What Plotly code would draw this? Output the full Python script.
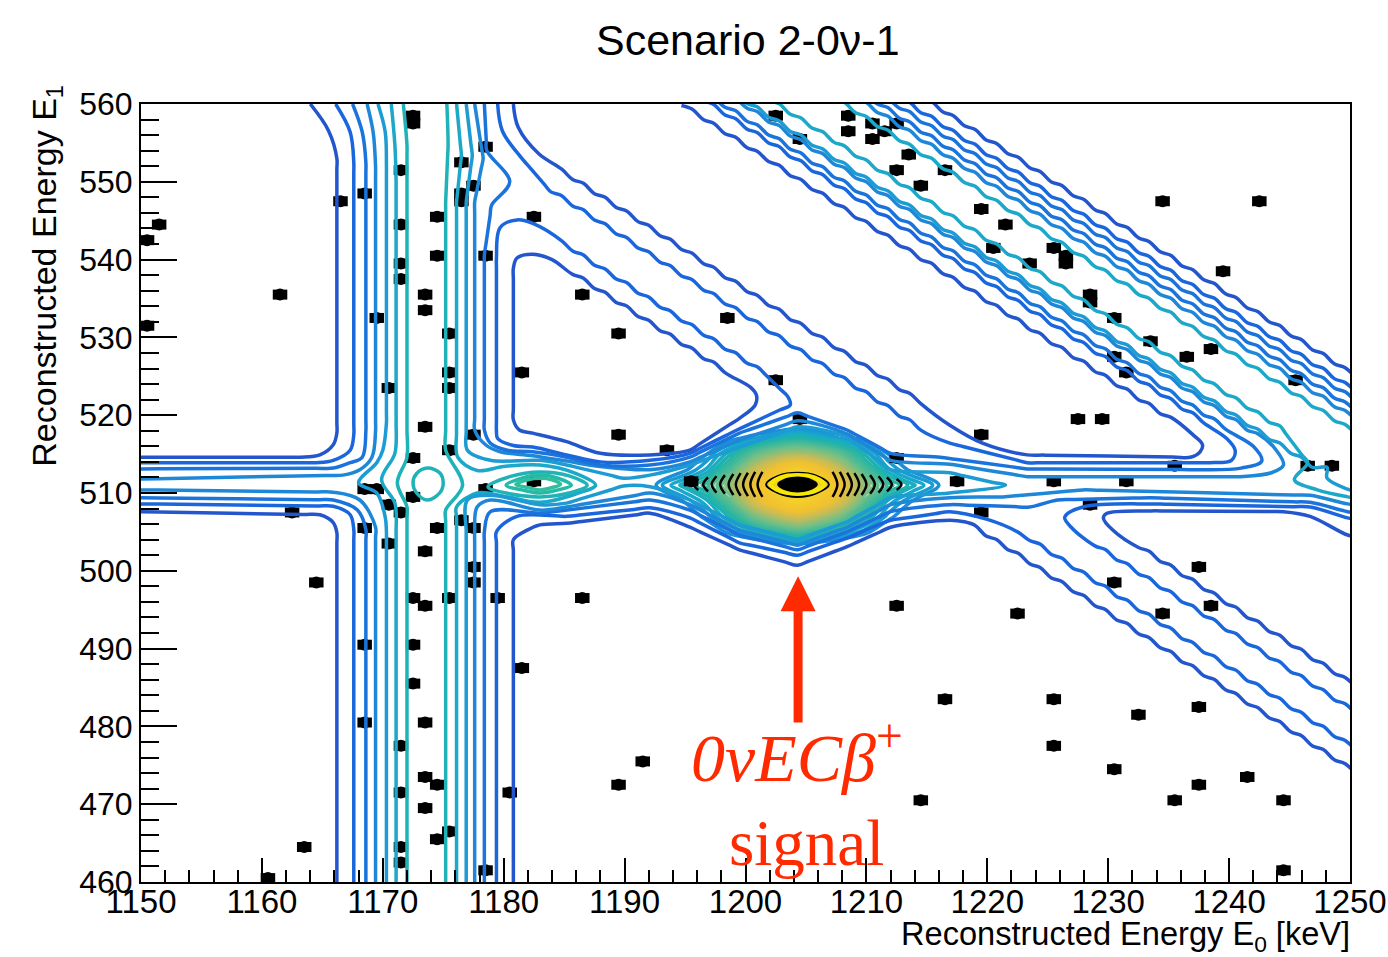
import plotly.graph_objects as go

# ---------- events (E0, E1) in keV ----------
EVENT_E0 = [1150.5,1151.5,1150.5,1161.5,1166.5,1168.5,1171.5,1171.5,1171.5,1171.5,1169.5,1170.5,1172.5,1172.5,1176.5,1177.5,1178.5,1176.5,1176.5,
            1174.5,1174.5,1178.5,1173.5,1173.5,1175.5,1175.5,1175.5,1173.5,1175.5,1177.5,1172.5,1182.5,1186.5,1189.5,1198.5,1181.5,1202.5,1189.5,
            1193.5,1204.5,1212.5,1217.5,1219.5,1227.5,1229.5,1235.5,1225.5,1231.5,1219.5,1228.5,1246.5,1248.5,1182.5,1178.5,1168.5,1169.5,1170.5,
            1171.5,1172.5,1162.5,1168.5,1170.5,1174.5,1176.5,1177.5,1173.5,1177.5,1177.5,1164.5,1172.5,1173.5,1175.5,1179.5,1186.5,1168.5,1172.5,
            1181.5,1172.5,1168.5,1173.5,1171.5,1173.5,1174.5,1171.5,1173.5,1180.5,1175.5,1174.5,1171.5,1171.5,1163.5,1160.5,1178.5,1189.5,1191.5,
            1214.5,1216.5,1212.5,1222.5,1225.5,1225.5,1230.5,1232.5,1230.5,1234.5,1237.5,1238.5,1237.5,1235.5,1237.5,1241.5,1244.5,1244.5,1202.5,
            1204.5,1208.5,1208.5,1210.5,1210.5,1211.5,1212.5,1213.5,1212.5,1214.5,1216.5,1219.5,1221.5,1220.5,1223.5,1225.5,1226.5,1226.5,1228.5,
            1228.5,1230.5,1233.5,1236.5,1238.5,1230.5,1231.5,1234.5,1242.5,1239.5,1245.5,1195.5]
EVENT_E1 = [542.5,544.5,531.5,535.5,547.5,548.5,551.5,544.5,539.5,537.5,532.5,523.5,558.5,557.5,552.5,549.5,554.5,548.5,547.5,
            545.5,540.5,540.5,535.5,533.5,530.5,525.5,523.5,518.5,515.5,517.5,514.5,545.5,535.5,530.5,532.5,525.5,524.5,517.5,
            515.5,519.5,514.5,511.5,517.5,519.5,519.5,513.5,511.5,511.5,507.5,508.5,513.5,513.5,511.5,510.5,510.5,510.5,508.5,
            507.5,509.5,507.5,505.5,503.5,505.5,506.5,505.5,502.5,500.5,498.5,498.5,496.5,495.5,496.5,496.5,496.5,490.5,490.5,
            487.5,485.5,480.5,480.5,477.5,473.5,472.5,471.5,469.5,471.5,466.5,465.5,464.5,462.5,464.5,460.5,461.5,472.5,475.5,
            470.5,483.5,495.5,494.5,483.5,477.5,474.5,481.5,498.5,494.5,500.5,495.5,482.5,470.5,472.5,473.5,470.5,461.5,558.5,
            555.5,558.5,556.5,557.5,555.5,556.5,557.5,553.5,551.5,549.5,551.5,546.5,544.5,541.5,539.5,541.5,540.5,539.5,535.5,
            534.5,532.5,529.5,527.5,528.5,527.5,525.5,547.5,547.5,538.5,524.5,511.5]

# ---------- hand read ripple of the diagonal contours ----------
WIGGLE = [.2,-.2,.22,-.2,.2,-.22,.2,-.2,.22,-.22,.2,-.2,.2,-.2,.22,-.2,.2,-.22,.22,-.2,.2,-.2,.22,-.22,.2,-.2,.22,-.2,.2,-.22,.2,-.2,.22,-.2,.2,-.22,.22,-.2,
          .2,-.2,.22,-.22,.2,-.2,.22,-.2,.2,-.22,.2,-.2,.22,-.2,.2,-.22,.22,-.2,.2,-.2,.22,-.22,.2,-.2,.22,-.2,.2,-.22,.2,-.2,.22,-.2,.2,-.22,.22,-.2,.2,-.2]
WIGGLE_E0 = [1183 + 0.9 * i for i in range(len(WIGGLE))]


def diag(total, x0, x1):
    """contour running along E0 + E1 = total"""
    pts = [(x, total - x + w) for x, w in zip(WIGGLE_E0, WIGGLE) if min(x0, x1) <= x <= max(x0, x1)]
    return pts if x0 < x1 else pts[::-1]


def straighten(pts):
    """pin long straight runs so that the spline does not bow them"""
    out = [pts[0]]
    for (x0, y0), (x1, y1) in zip(pts, pts[1:]):
        length = abs(x1 - x0) + abs(y1 - y0)
        if length > 6:
            t = 1.5 / length
            out += [(x0 + (x1 - x0) * t, y0 + (y1 - y0) * t), (x1 - (x1 - x0) * t, y1 - (y1 - y0) * t)]
        out.append((x1, y1))
    return out


# ---------- contour colours, outer to inner ----------
C1, C2, C3, C4, C5, C6, C7 = "#2356cc", "#1a66dd", "#1b74dc", "#1f87d8", "#1d9bd3", "#1ba8c9", "#1fb3b8"

# ---------- left hand quadrants ----------
TL1 = [(1164,560),(1165.5,556.6),(1166.2,553),(1166.2,517.7),(1165.9,516.2),(1164.8,514.9),(1163.2,514.6),(1150,514.6)]
TL2 = [(1166.1,560),(1167.3,556.4),(1167.6,552.5),(1167.6,517.5),(1167.3,515.5),(1165.9,514.2),(1164.5,513.9),(1150,513.9)]
TL3 = [(1167.5,560),(1168.3,556.4),(1168.6,552.5),(1168.6,518),(1168.3,514.6),(1167.3,513.9),(1165.9,513.2),(1150,513.1)]
TL4 = [(1168.7,560),(1169.2,556.4),(1169.4,552),(1169.4,518),(1169.1,514.6),(1168.1,513),(1166.7,512.3),(1150,511.8)]
BL1 = [(1150,507.6),(1164.8,507.2),(1165.9,506.2),(1166.2,504.9),(1166.2,460)]
BL2 = [(1150,508.6),(1165.9,508.3),(1167.3,507.2),(1167.6,505.3),(1167.6,460)]
BL3 = [(1150,509.4),(1165.9,509.1),(1167.9,507.8),(1168.6,505.3),(1168.6,460)]
BL4 = [(1150,510.4),(1165.9,510.1),(1168.1,509.1),(1169.4,505.6),(1169.4,460)]
# ---------- central pinched bands ----------
B5 = [(1169.6,560),(1170.2,556.4),(1170.3,552),(1170.3,519),(1170,515.5),(1169.5,513.9),(1168,511.3),(1169.5,510),(1170.2,506.9),(1170.3,505),(1170.3,460)]
B6 = [(1170.7,560),(1171,554.7),(1171.1,550),(1171.1,519),(1171,515.1),(1169.9,511.7),(1171,508.7),(1171.1,505),(1171.1,460)]
B7 = [(1171.7,560),(1172,554.7),(1172,518),(1172,514.6),(1171.2,511.3),(1172,508.2),(1172,460)]
LOOP = [(1173.7,513.2),(1174.7,512.6),(1175,511.3),(1174.7,510),(1173.7,509.1),(1172.8,510),(1172.5,511.3),(1172.8,512.5),(1173.7,513.2)]
R7 = [(1175.3,560),(1175.4,554.7),(1175.2,547.4),(1175.2,518),(1175.2,515.5),(1176.6,511),(1175.2,507.8),(1175.2,460)]
R6 = [(1176.1,560),(1176.5,553.4),(1176.1,547.4),(1176.1,517.7),(1176.2,514.6),(1177.8,512.9),(1180,513.4),(1183,513.6),(1186,512.5),(1187.6,511),
      (1186,509.9),(1183,508.8),(1180,509.6),(1177.8,510),(1176.1,508.2),(1176.1,460)]
R5 = [(1176.9,560),(1177.4,553.4),(1176.9,547.4),(1176.9,518),(1177,515.5),(1178.9,514.2),(1183,514.2),(1185.2,513.6),(1189.9,511.9),(1192.1,512.3),(1195.4,513.6),
      (1199.5,515.9),(1204.3,518.5),(1208.4,517.2),(1212,513),(1216.9,512.6),(1221.5,511),(1216.9,510),(1212,509.4),(1208.4,506.3),(1204.3,504),(1199.5,505.9),
      (1195.4,509.1),(1192.1,510.8),(1189.9,510.9),(1185.2,508.7),(1183,508.5),(1178.9,509.7),(1177,509.1),(1176.9,505),(1176.9,460)]
# ---------- eye around 1183 keV ----------
EYE_A = [(1178.7,510.8),(1180.5,512.1),(1183,512.7),(1185.4,512.2),(1186.9,511),(1185.4,510),(1183,509.5),(1180.5,509.9),(1178.7,510.8)]
EYE_B = [(1180.2,511),(1181.5,511.9),(1183,512.3),(1184.5,511.9),(1185.6,511),(1184.5,510.4),(1183,510),(1181.5,510.4),(1180.2,511)]
EYE_C = [(1181,511.1),(1182,511.7),(1183,511.9),(1184,511.7),(1184.7,511.1),(1184,510.7),(1183,510.4),(1182,510.7),(1181,511.1)]
# ---------- upper side ----------
R4 = [(1177.6,560),(1178.3,553),(1177.6,547.4),(1177.6,518.1),(1178.5,516.2),(1179.7,515.3),(1182.4,514.8),(1185.2,514.1),(1188,513.4),(1192.1,513),(1195.4,514),
      (1199.5,516.8),(1204.3,519.3),(1208.4,517.6),(1212,514.2),(1216.9,513.7),(1223.3,512.1),(1233.5,512.1),(1240.9,512.1),(1243.5,512.6),(1244.5,513.6),(1243.9,515.5)] + diag(1759.8,1242.5,1199)
R3 = [(1178.4,560),(1178.6,554),(1180.5,550),(1179,547),(1178.4,540.6),(1178.4,518.1),(1178.9,516.4),(1180.3,515.5),(1182.4,515.3),(1185.2,514.6),(1188,513.6),(1192.1,513.6),
      (1195.4,514.6),(1199.5,517.7),(1204.3,520.3),(1208.4,518.1),(1212,515.1),(1216.1,514.6),(1223.3,513.1),(1237.6,513),(1241,513.2),(1242.7,514.1),(1242,516)] + diag(1758.1,1240.5,1197)
D2 = [(1179.5,560),(1179.9,556.5),(1181.4,553.2)] + diag(1732.8,1183.5,1215) + [(1216.9,516.4),(1223.3,513.9),(1238.4,513.9),(1240.2,514.2),(1240.5,515.5),(1239.8,517)] + diag(1757.1,1238.5,1196)
D1 = [(1180.8,560),(1181.2,557),(1182.9,553.6)] + diag(1736.2,1184,1215) + [(1216.9,518.7),(1219.6,516.4),(1223.3,514.9),(1236.8,514.6),(1237.6,515.3),(1237.8,516.2),(1237,517.5)] + diag(1754.7,1235.5,1194)
TRI2 = [(1179.4,518),(1179.4,540.2),(1179.7,544.1),(1181.1,545.1),(1182.5,544.6)] + diag(1727,1184.5,1201) + [(1203.5,522.4),(1203.7,521.3),(1199.3,518.1),(1195.4,515.1),(1192.1,514.2),
        (1188,514),(1185.2,514.9),(1182.4,515.9),(1180.8,516.1),(1179.5,517),(1179.4,518)]
TRI1 = [(1180.8,538.9),(1180.8,519.4),(1181.3,518.1),(1182.4,517.7),(1185.2,516.6),(1188,515.1),(1192.1,514.9),(1195.4,515.5),(1199.5,519.6),(1200.8,521.3),(1200.9,522.6),(1200.4,523.6)] + diag(1724,1199,1185) + [(1184,540),(1182.4,540.7),(1181.1,540.2),(1180.8,538.9)]
TOP5 = diag(1760.4,1198,1247) + [(1248.1,513.3),(1248.1,511.9),(1249.8,510.5),(1251,510)]
TOP6 = diag(1762.6,1200,1244.5) + [(1246.5,513.9),(1245.4,511.7),(1247.3,510.4),(1249.8,509.5),(1251,509.2)]
# ---------- band at the upper right ----------
UP1 = diag(1775.5,1214,1252)
UP2 = diag(1773.6,1212,1252)
UP3 = diag(1772.4,1211,1252)
UP4 = diag(1771.1,1210,1252)
UP5 = diag(1770,1209,1252)
UP6 = diag(1768.2,1207,1252)
# ---------- lower side ----------
LOW1 = [(1180.8,460),(1180.8,504),(1181.9,505.2),(1183,505.9),(1185.2,506.1),(1192.1,507.4),(1195.4,505.6),(1199.5,502.7),(1204.3,500.7),(1208.4,503.1),(1212,505.6),(1216.9,506.5)] + diag(1724.6,1218,1251)
LOW2 = [(1179.4,460),(1179.4,505),(1181.1,507),(1185.2,507),(1192.1,508.1),(1195.4,506.8),(1199.5,503.6),(1204.3,502),(1208.4,504.2),(1212,506.5),(1216.9,507.6),(1220,506.6),(1222.5,505)] + diag(1727.6,1223.5,1251)
LOW3 = [(1178.4,460),(1178.4,505),(1178.9,507.6),(1183,507.4),(1192.1,509.1),(1195.4,507.8),(1199.5,504.6),(1204.3,502.7),(1208.4,505),(1212,507.6),(1216.9,508.5),(1223.5,508.2),(1225.8,509.1),(1233.5,509.4),(1246.7,508.8),(1249.8,507.6),(1251,507.3)]
LOW4 = [(1177.6,460),(1177.6,505),(1177.8,508.2),(1178.9,509.1),(1183,507.8),(1185.2,508.2),(1192.1,510),(1195.4,508.5),(1199.5,505.2),(1204.3,503.3),(1208.4,505.6),(1212,508.5),(1216.9,509.4),(1221.3,509.5),(1227.9,510.4),(1246.7,509.7),(1249.8,508.6),(1251,508.3)]
D7 = [(1251,506.4),(1249.8,506.8),(1246.7,508.2),(1233.5,508.6),(1227.9,508.2),(1226.4,506.9),(1227,505.5)] + diag(1732.3,1228.5,1251)
D8 = [(1251,504.2),(1249.8,504.6),(1246.7,507),(1244.5,507.6),(1233.5,507.7),(1229.9,507.4),(1229.6,506.8),(1230.4,505.2)] + diag(1735.7,1232,1251)

LINES = [(TL1,C1),(TL2,C2),(TL3,C3),(TL4,C4),(BL1,C1),(BL2,C2),(BL3,C3),(BL4,C4),(B5,C5),(B6,C6),(B7,C7),(LOOP,C7),
         (R7,C7),(R6,C6),(R5,C5),(R4,C4),(R3,C3),(D2,C2),(D1,C1),(TRI2,C2),(TRI1,C1),(TOP5,C5),(TOP6,C6),
         (UP1,C1),(UP2,C2),(UP3,C3),(UP4,C3),(UP5,C4),(UP6,C6),
         (LOW1,C1),(LOW2,C2),(LOW3,C3),(LOW4,C4),(D7,C2),(D8,C1),(EYE_A,C7),(EYE_B,"#25b9a8"),(EYE_C,"#2fbf9f")]

# ---------- density of the main peak ----------
PEAK_E0 = [1189.8,1191.8,1192.8,1194.8,1196.8,1198.8,1200.8,1202.8,1204.3,1205.8,1207.8,1209.8,1211.8,1213.8,1215.8,1216.8,1218.8]
PEAK_E1 = [502,503.5,505,507,509,511,513,515,517,518.5,520]
PEAK_Z = [
    [-3,-3,-3,-3,-3,-3,-3,-2,-2,-2,-3,-3,-3,-3,-3,-3,-3],
    [-3,-3,-3,-3,-2,-1,-.5,.5,1,.5,-.5,-1,-2,-3,-3,-3,-3],
    [-3,-3,-3,-2,-.5,1.5,3.5,5.5,7,5.5,3.5,1.5,-.5,-2,-3,-3,-3],
    [-3,-3,-2,-.5,1.5,5,10,14,16,14,10,5,1.5,-.5,-2,-3,-3],
    [-3,-2,-1,1,3.5,9,17,23,26,23,17,9,3.5,1,-1,-2,-3],
    [-3,-1,1.5,4,7,12,20,28,33,28,20,12,7,4,1.5,-1,-3],
    [-3,-2,-1,.5,3,8,15,21,24,21,15,8,3,.5,-1,-2,-3],
    [-3,-3,-2,-.5,1,4.5,9,12,13,12,9,4.5,1,-.5,-2,-3,-3],
    [-3,-3,-3,-2,-1,.5,2,4,5,4,2,.5,-1,-2,-3,-3,-3],
    [-3,-3,-3,-3,-3,-2,-1,-.5,.5,-.5,-1,-2,-3,-3,-3,-3,-3],
    [-3,-3,-3,-3,-3,-3,-3,-3,-3,-3,-3,-3,-3,-3,-3,-3,-3],
]
PEAK_SCALE = [[0,"#1b8fd8"],[.06,"#18a8cc"],[.14,"#22b5a6"],[.3,"#74bf86"],[.45,"#c4bc58"],[.6,"#f0c032"],[1,"#f8dc20"]]
# black core, yellow ring and black arcs at the centre (half width, half height, keV)
CORE_E0 = [1202.7,1203.4,1204.3,1205.2,1205.9,1205.2,1204.3,1203.4,1202.7]
CORE_E1 = [511.1,511.8,512,511.8,511.1,510.4,510.2,510.4,511.1]
RING_E0 = [1202.1,1202.9,1204.3,1205.7,1206.5,1205.7,1204.3,1202.9,1202.1]
RING_E1 = [511.1,512,512.3,512,511.1,510.2,509.9,510.2,511.1]
EDGE_E0 = [1201.7,1202.7,1204.3,1205.9,1206.9,1205.9,1204.3,1202.7,1201.7]
EDGE_E1 = [511.1,512.2,512.6,512.2,511.1,510,509.5,510,511.1]
ARC_OFFSET = [3.3,3.9,4.5,5.1,5.7,6.4,7.1,7.8,8.6]
ARC_HEIGHT = [1.6,1.6,1.5,1.45,1.35,1.2,1.05,.9,.7]
PEAK_CENTER = 1204.3
ARC_CENTER = 511.1

X_TICKS = [1150,1160,1170,1180,1190,1200,1210,1220,1230,1240,1250]
Y_TICKS = [460,470,480,490,500,510,520,530,540,550,560]
RED = "#ff2a00"
SANS = "Liberation Sans, Arial, sans-serif"
SERIF = "Liberation Serif, Times New Roman, serif"

fig = go.Figure()
fig.add_trace(go.Scatter(x=EVENT_E0, y=EVENT_E1, mode="markers", showlegend=False, hoverinfo="skip",
                         marker=dict(symbol="circle", size=12, color="black"),
                         error_x=dict(type="constant", value=0.6, thickness=10, width=0, color="black")))
fig.add_trace(go.Contour(x=PEAK_E0, y=PEAK_E1, z=PEAK_Z, zmin=0, zmax=33, colorscale=PEAK_SCALE, showscale=False, hoverinfo="skip",
                         contours=dict(coloring="lines", start=1, end=32, size=0.9), line=dict(width=3.5, smoothing=1)))
for pts, col in LINES:
    pts = straighten(pts)
    fig.add_trace(go.Scatter(x=[p[0] for p in pts], y=[p[1] for p in pts], mode="lines", showlegend=False, hoverinfo="skip",
                             line=dict(color=col, width=3.5, shape="spline", smoothing=1)))
for off, h in zip(ARC_OFFSET, ARC_HEIGHT):
    for side in (-1, 1):
        fig.add_trace(go.Scatter(x=[PEAK_CENTER + side * (off - .4), PEAK_CENTER + side * off, PEAK_CENTER + side * (off - .4)],
                                 y=[ARC_CENTER + h, ARC_CENTER, ARC_CENTER - h], mode="lines", showlegend=False, hoverinfo="skip",
                                 line=dict(color="black", width=2.5, shape="spline", smoothing=1)))
fig.add_trace(go.Scatter(x=EDGE_E0, y=EDGE_E1, mode="lines", showlegend=False, hoverinfo="skip",
                         line=dict(color="black", width=2, shape="spline")))
fig.add_trace(go.Scatter(x=RING_E0, y=RING_E1, mode="lines", showlegend=False, hoverinfo="skip",
                         line=dict(color="#f6e800", width=4, shape="spline")))
fig.add_trace(go.Scatter(x=CORE_E0, y=CORE_E1, mode="lines", fill="toself", fillcolor="black", showlegend=False, hoverinfo="skip",
                         line=dict(color="black", width=2, shape="spline")))

axis = dict(showgrid=False, zeroline=False, showline=True, mirror=True, linecolor="black", linewidth=2, automargin=False,
            ticks="inside", tickcolor="black", tickwidth=1.5)
fig.update_xaxes(axis, range=[1150, 1250], tickvals=X_TICKS, ticklen=24, ticklabelstandoff=-11, ticklabeloverflow="allow",
                 tickfont=dict(family=SANS, size=33, color="black"),
                 minor=dict(ticks="inside", dtick=2, tick0=1150, ticklen=12, tickcolor="black", tickwidth=1.5))
fig.update_yaxes(axis, range=[460, 560], tickvals=Y_TICKS, ticklen=36,
                 tickfont=dict(family=SANS, size=32, color="black"),
                 minor=dict(ticks="inside", dtick=2, tick0=460, ticklen=18, tickcolor="black", tickwidth=1.5))
fig.update_layout(
    width=1388, height=957, autosize=False, plot_bgcolor="white", paper_bgcolor="white",
    margin=dict(l=141, r=38, t=104, b=75), showlegend=False,
    annotations=[
        dict(text="Scenario 2-0\u03bd-1", xref="paper", yref="paper", x=0.502, y=1.082, xanchor="center", yanchor="middle", showarrow=False,
             font=dict(family=SANS, size=43, color="black")),
        dict(text="Reconstructed Energy E<sub>1</sub>", xref="paper", yref="paper", x=-0.078, y=1.027, xanchor="center", yanchor="top",
             textangle=-90, showarrow=False, font=dict(family=SANS, size=34, color="black")),
        dict(text="Reconstructed Energy E<sub>0</sub> [keV]", xref="paper", yref="paper", x=1.002, y=-0.07, xanchor="right", yanchor="middle",
             showarrow=False, font=dict(family=SANS, size=32.6, color="black")),
        dict(text="<i>0\u03bdEC\u03b2</i><sup>+</sup>", xref="x", yref="y", x=1204.3, y=476.6, xanchor="center", yanchor="middle", showarrow=False,
             font=dict(family=SERIF, size=68, color=RED)),
        dict(text="signal", xref="x", yref="y", x=1205.05, y=465, xanchor="center", yanchor="middle", showarrow=False,
             font=dict(family=SERIF, size=65, color=RED)),
        dict(text="", xref="x", yref="y", axref="x", ayref="y", x=1204.35, y=499.3, ax=1204.35, ay=480.3, showarrow=True,
             arrowhead=2, arrowsize=0.78, arrowwidth=9, arrowcolor=RED),
    ],
)
fig.write_html("out.html", config=dict(displayModeBar=False),
               post_script="document.body.style.margin='0';document.body.style.overflow='hidden';")
